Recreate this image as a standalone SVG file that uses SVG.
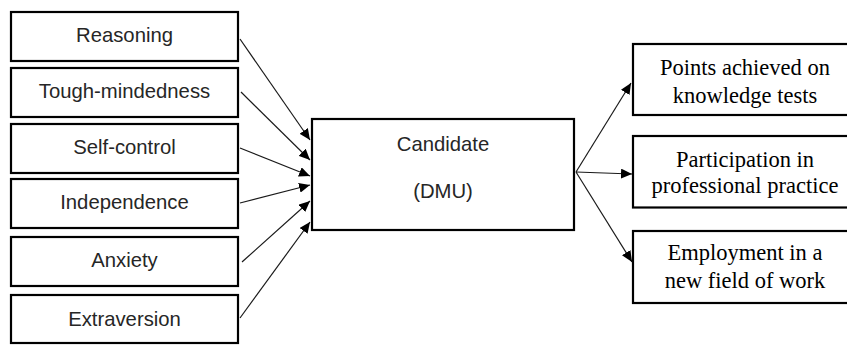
<svg xmlns="http://www.w3.org/2000/svg" width="847" height="345" viewBox="0 0 847 345">
<defs>
<style>
.box{fill:#fff;stroke:#000;stroke-width:2.2}
.sans{font-family:"Liberation Sans",Arial,sans-serif;font-size:20.3px;fill:#262626;text-anchor:middle}
.serif{font-family:"Liberation Serif","Times New Roman",serif;font-size:22.5px;fill:#000;text-anchor:middle}
.conn{stroke:#1a1a1a;stroke-width:1.2;fill:none;marker-end:url(#ah)}
</style>
<marker id="ah" markerUnits="userSpaceOnUse" markerWidth="12" markerHeight="10" refX="11" refY="5" orient="auto">
<path d="M0,0 L11,5 L0,10 Z" fill="#000"/>
</marker>
</defs>
<rect width="847" height="345" fill="#fff"/>
<g id="reasoning"><rect class="box" x="11" y="12" width="227" height="49"/><text class="sans" x="124.5" y="42">Reasoning</text></g>
<g id="tough"><rect class="box" x="11" y="68" width="227" height="49"/><text class="sans" x="124.5" y="98">Tough-mindedness</text></g>
<g id="selfcontrol"><rect class="box" x="11" y="124" width="227" height="49"/><text class="sans" x="124.5" y="154">Self-control</text></g>
<g id="independence"><rect class="box" x="11" y="179" width="227" height="49"/><text class="sans" x="124.5" y="209">Independence</text></g>
<g id="anxiety"><rect class="box" x="11" y="237" width="227" height="49"/><text class="sans" x="124.5" y="267">Anxiety</text></g>
<g id="extraversion"><rect class="box" x="11" y="295" width="227" height="48"/><text class="sans" x="124.5" y="326">Extraversion</text></g>
<g id="candidate"><rect class="box" x="312" y="119" width="262" height="111"/><text class="sans" x="443" y="151">Candidate</text><text class="sans" x="443" y="198">(DMU)</text></g>
<g id="points"><rect class="box" x="633" y="44" width="230" height="71"/><text class="serif" x="745" y="75">Points achieved on</text><text class="serif" x="745" y="102.5">knowledge tests</text></g>
<g id="participation"><rect class="box" x="633" y="136" width="230" height="71.5"/><text class="serif" x="745" y="166.5">Participation in</text><text class="serif" x="745" y="193">professional practice</text></g>
<g id="employment"><rect class="box" x="633" y="231" width="230" height="72"/><text class="serif" x="745" y="260">Employment in a</text><text class="serif" x="745" y="288">new field of work</text></g>
<g id="connectors">
<line class="conn" x1="240" y1="39" x2="310" y2="140"/>
<line class="conn" x1="241" y1="92" x2="310" y2="160"/>
<line class="conn" x1="240" y1="148" x2="310" y2="176"/>
<line class="conn" x1="240" y1="203" x2="310" y2="185"/>
<line class="conn" x1="242" y1="262" x2="310" y2="201"/>
<line class="conn" x1="240" y1="318" x2="310" y2="222"/>
<line class="conn" x1="576" y1="172" x2="631" y2="83"/>
<line class="conn" x1="576" y1="172" x2="632" y2="174"/>
<line class="conn" x1="576" y1="172" x2="632" y2="262"/>
</g>
</svg>
